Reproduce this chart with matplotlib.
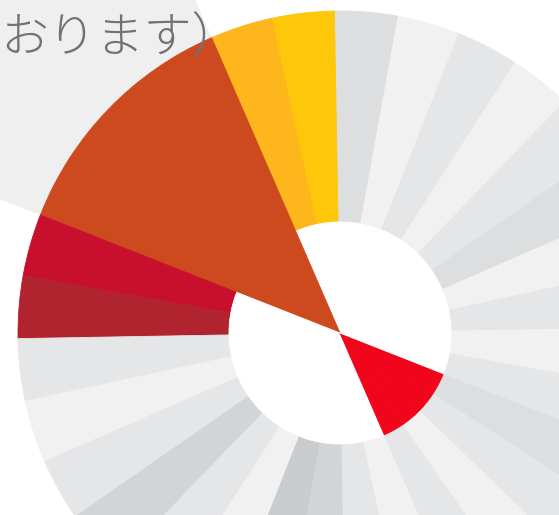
import matplotlib
matplotlib.use("Agg")
import matplotlib.pyplot as plt

plt.rcParams['font.family'] = ['Noto Sans CJK JP', 'DejaVu Sans']

# 32 equal sectors, counter-clockwise from 1 degree
n_sectors = 32
sector_values = [1] * n_sectors

shades = {
    'light': '#f1f1f2',
    'medium': '#e4e6e8',
    'darker': '#dcdee0',
    'dark': '#d2d5d7',
    'darkest': '#c9ccce',
    'yellow': '#ffc709',
    'amber': '#fdb61b',
    'orange': '#cd4a1e',
    'crimson': '#c8102e',
    'maroon': '#b1232f',
    'red': '#f0051a',
    'white': '#ffffff',
}

ring_shade = [
    'medium', 'light', 'darker', 'medium', 'light', 'medium', 'light', 'darker',
    'yellow', 'amber', 'orange', 'orange', 'orange', 'orange', 'crimson', 'maroon',
    'medium', 'light', 'medium', 'dark', 'medium', 'light', 'darkest', 'dark',
    'medium', 'light', 'medium', 'light', 'medium', 'darker', 'medium', 'light',
]

inner_shade = ['white'] * n_sectors
for i in [10, 11, 12, 13]:
    inner_shade[i] = 'orange'
for i in [26, 27, 28, 29]:
    inner_shade[i] = 'red'

halo_sectors = [10, 11, 12, 13]
title_tail = 'おります）'

fig = plt.figure(figsize=(5.59, 5.15), dpi=100)
ax = fig.add_axes([0, 0, 1, 1])

cx, cy = 340, 515 - 333
r_outer, r_inner = 322, 111

halo_colors = ['#efeff0' if i in halo_sectors else 'none' for i in range(n_sectors)]
ax.pie(sector_values, colors=halo_colors, startangle=1, counterclock=True,
       radius=800, center=(cx, cy), wedgeprops=dict(linewidth=0))

ring, _ = ax.pie(sector_values, colors=[shades[s] for s in ring_shade], startangle=1,
                 counterclock=True, radius=r_outer, center=(cx, cy),
                 wedgeprops=dict(width=r_outer - r_inner, linewidth=0.6))

core, _ = ax.pie(sector_values, colors=[shades[s] for s in inner_shade], startangle=1,
                 counterclock=True, radius=r_inner, center=(cx, cy),
                 wedgeprops=dict(linewidth=0.6))

# hide hairline seams between neighbouring wedges
for w in list(ring) + list(core):
    w.set_edgecolor(w.get_facecolor())

ax.text(0, 515 - 39, title_tail, fontsize=34.5, color='#707276', fontweight='light',
        ha='left', va='center', zorder=10)

ax.set_xlim(0, 559)
ax.set_ylim(0, 515)
ax.set_aspect('equal')
ax.axis('off')

fig.savefig('out.png', dpi=100)
